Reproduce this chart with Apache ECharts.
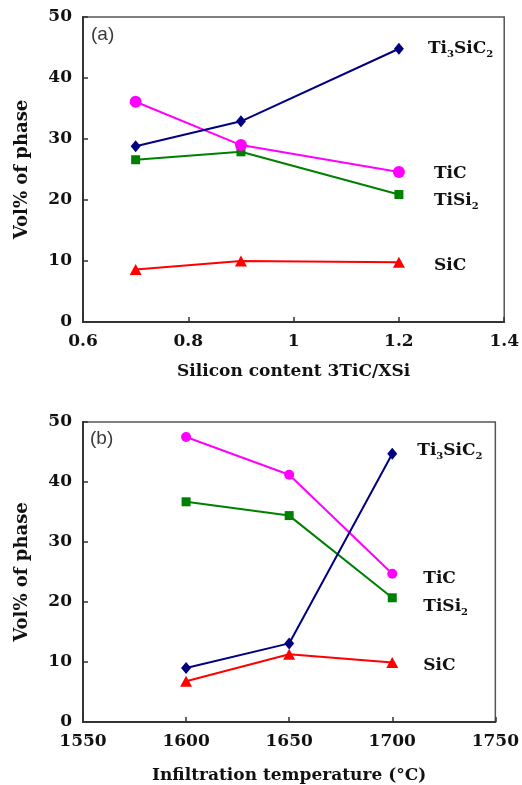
<!DOCTYPE html>
<html>
<head>
<meta charset="utf-8">
<script src="https://cdn.jsdelivr.net/npm/echarts@6/dist/echarts.min.js"></script>
<style>
html,body{margin:0;padding:0;background:#fff;}
#chart{width:522px;height:785px;}
</style>
</head>
<body>
<div id="chart"></div>
<script>
// Panel (a): silicon content
const xA = [0.7, 0.9, 1.2];
const a_Ti3SiC2 = [28.8, 32.9, 44.8];
const a_TiC = [36.1, 29.0, 24.6];
const a_TiSi2 = [26.6, 27.9, 20.9];
const a_SiC = [8.6, 10.0, 9.8];
const xTicksA = [0.6, 0.8, 1, 1.2, 1.4];

// Panel (b): infiltration temperature
const xB = [1600, 1650, 1700];
const b_Ti3SiC2 = [9.0, 13.1, 44.7];
const b_TiC = [47.5, 41.2, 24.7];
const b_TiSi2 = [36.7, 34.4, 20.7];
const b_SiC = [6.8, 11.3, 9.9];
const xTicksB = [1550, 1600, 1650, 1700, 1750];

const yTicks = [0, 10, 20, 30, 40, 50];

const serif = 'DejaVu Serif';
const FS = 17;

function pairs(xs, ys){ return xs.map((x,i)=>[x, ys[i]]); }

const rich = {
  m: {fontFamily: serif, fontWeight: 'bold', fontSize: FS, color: '#111', lineHeight: 22},
  s: {fontFamily: serif, fontWeight: 'bold', fontSize: 10, color: '#111', lineHeight: 11, verticalAlign: 'bottom'}
};
const labelText = {
  Ti3SiC2: '{m|Ti}{s|3}{m|SiC}{s|2}',
  TiC: '{m|TiC}',
  TiSi2: '{m|TiSi}{s|2}',
  SiC: '{m|SiC}'
};

function mkSeries(name, xs, ys, idx, color, symbol, size, dist, dy){
  return {
    type: 'line', name: name, xAxisIndex: idx, yAxisIndex: idx,
    data: pairs(xs, ys),
    symbol: symbol, symbolSize: size,
    lineStyle: {color: color, width: 2},
    itemStyle: {color: color, borderWidth: 0},
    animation: false,
    endLabel: {
      show: true, distance: dist, offset: [0, dy],
      formatter: () => labelText[name], rich: rich
    }
  };
}

function xAxisCfg(idx, mn, mx, iv, title, gap){
  return {
    type: 'value', gridIndex: idx, min: mn, max: mx, interval: iv,
    name: title, nameLocation: 'middle', nameGap: gap,
    nameTextStyle: {fontFamily: serif, fontWeight: 'bold', fontSize: FS, color: '#111'},
    axisLine: {show: true, onZero: false, lineStyle: {color: '#333', width: 2}},
    axisTick: {show: true, inside: true, length: 5, lineStyle: {color: '#333', width: 1.5}},
    axisLabel: {fontFamily: serif, fontWeight: 'bold', fontSize: FS, color: '#111', margin: 11,
      formatter: v => String(+v.toFixed(2))},
    splitLine: {show: false}
  };
}
function yAxisCfg(idx){
  return {
    type: 'value', gridIndex: idx, min: 0, max: 50, interval: 10,
    name: 'Vol% of phase', nameLocation: 'middle', nameGap: 52, nameRotate: 90,
    nameTextStyle: {fontFamily: serif, fontWeight: 'bold', fontSize: 18, color: '#111'},
    axisLine: {show: true, lineStyle: {color: '#333', width: 2}},
    axisTick: {show: true, inside: true, length: 5, lineStyle: {color: '#333', width: 1.5}},
    axisLabel: {fontFamily: serif, fontWeight: 'bold', fontSize: FS, color: '#111', margin: 11},
    splitLine: {show: false}
  };
}

const chart = echarts.init(document.getElementById('chart'), null, {renderer: 'canvas'});
chart.setOption({
  backgroundColor: '#fff',
  animation: false,
  grid: [
    {left: 83, top: 17, width: 424, height: 305, show: true, borderColor: '#555', borderWidth: 1.5, backgroundColor: 'transparent'},
    {left: 83, top: 422, width: 419, height: 301, show: true, borderColor: '#555', borderWidth: 1.5, backgroundColor: 'transparent'}
  ],
  xAxis: [
    xAxisCfg(0, xTicksA[0], xTicksA[xTicksA.length-1], 0.2, 'Silicon content 3TiC/XSi', 41),
    xAxisCfg(1, xTicksB[0], xTicksB[xTicksB.length-1], 50, 'Infiltration temperature (°C)', 45)
  ],
  yAxis: [yAxisCfg(0), yAxisCfg(1)],
  graphic: [
    {type: 'text', left: 91, top: 25, style: {text: '(a)', fontFamily: 'Liberation Sans', fontSize: 19, fill: '#3a3a3a'}},
    {type: 'text', left: 90, top: 429, style: {text: '(b)', fontFamily: 'Liberation Sans', fontSize: 19, fill: '#3a3a3a'}}
  ],
  series: [
    mkSeries('TiSi2', xA, a_TiSi2, 0, '#008000', 'rect', 9, 35, 6),
    mkSeries('SiC', xA, a_SiC, 0, '#ff0000', 'triangle', [12, 11], 35, 3),
    mkSeries('TiC', xA, a_TiC, 0, '#ff00ff', 'circle', 12, 35, 2),
    mkSeries('Ti3SiC2', xA, a_Ti3SiC2, 0, '#000080', 'diamond', [10, 12], 29, 0),
    mkSeries('TiSi2', xB, b_TiSi2, 1, '#008000', 'rect', 9, 31, 9),
    mkSeries('SiC', xB, b_SiC, 1, '#ff0000', 'triangle', [12, 11], 31, 3),
    mkSeries('TiC', xB, b_TiC, 1, '#ff00ff', 'circle', 10, 31, 5),
    mkSeries('Ti3SiC2', xB, b_Ti3SiC2, 1, '#000080', 'diamond', [10, 12], 25, -3)
  ]
});
</script>
</body>
</html>
